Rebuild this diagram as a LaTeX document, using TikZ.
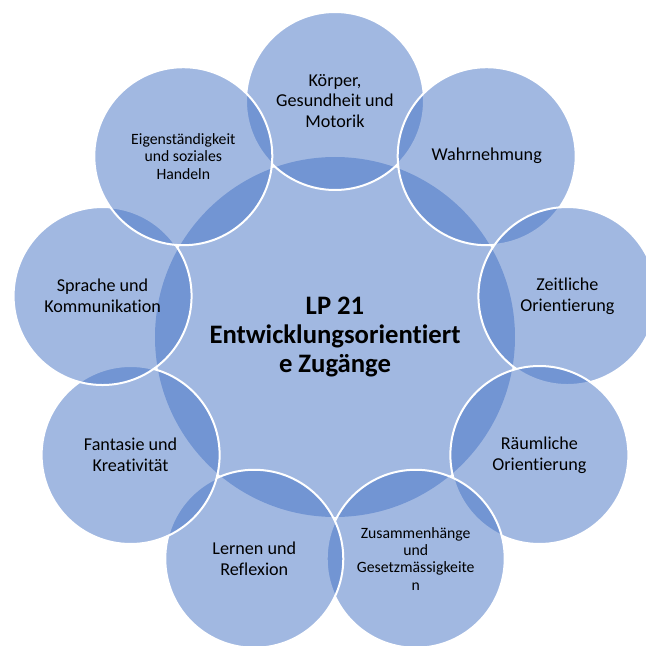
\documentclass[tikz,border=0pt]{standalone}
\usepackage{fontspec}
\setmainfont{Carlito}[Ligatures={NoCommon}]

\definecolor{vennblue}{HTML}{4472C4}

\tikzset{
  hub/.style={circle,minimum size=270pt,inner sep=0pt,fill=vennblue,fill opacity=0.5,
    text opacity=1,align=center,font=\bfseries\fontsize{20}{21.6}\selectfont},
  petal/.style={circle,minimum size=133.5pt,inner sep=0pt,fill=vennblue,fill opacity=0.5,
    text opacity=1,draw=white,line width=1.5pt,align=center,font=\fontsize{13.6}{15.5}\selectfont},
  smalltext/.style={font=\fontsize{11.8}{13.1}\selectfont}
}

\begin{document}
\begin{tikzpicture}[x=0.75pt,y=0.75pt]
  \useasboundingbox (-335,-309) rectangle (311,337);
  \clip (-335,-309) rectangle (311,337);

  \node[hub] (lp) at (0,0) {LP 21\\Entwicklungsorientiert\\e Zugänge};

  % ring of nine, clockwise from the top
  \node[petal] (p1) at (90:236) {Körper,\\Gesundheit und\\Motorik};
  \node[petal] (p2) at (50:236) {Wahrnehmung};
  \node[petal] (p3) at (10:236) {Zeitliche\\Orientierung};
  \node[petal] (p4) at (-30:236) {Räumliche\\Orientierung};
  \node[petal,smalltext] (p5) at (-70:236) {Zusammenhänge\\und\\Gesetzmässigkeite\\n};
  \node[petal] (p6) at (-110:236) {Lernen und\\Reflexion};
  \node[petal] (p7) at (-150:236) {Fantasie und\\Kreativität};
  \node[petal] (p8) at (170:236) {Sprache und\\Kommunikation};
  \node[petal,smalltext] (p9) at (130:236) {Eigenständigkeit\\und soziales\\Handeln};

\end{tikzpicture}
\end{document}
